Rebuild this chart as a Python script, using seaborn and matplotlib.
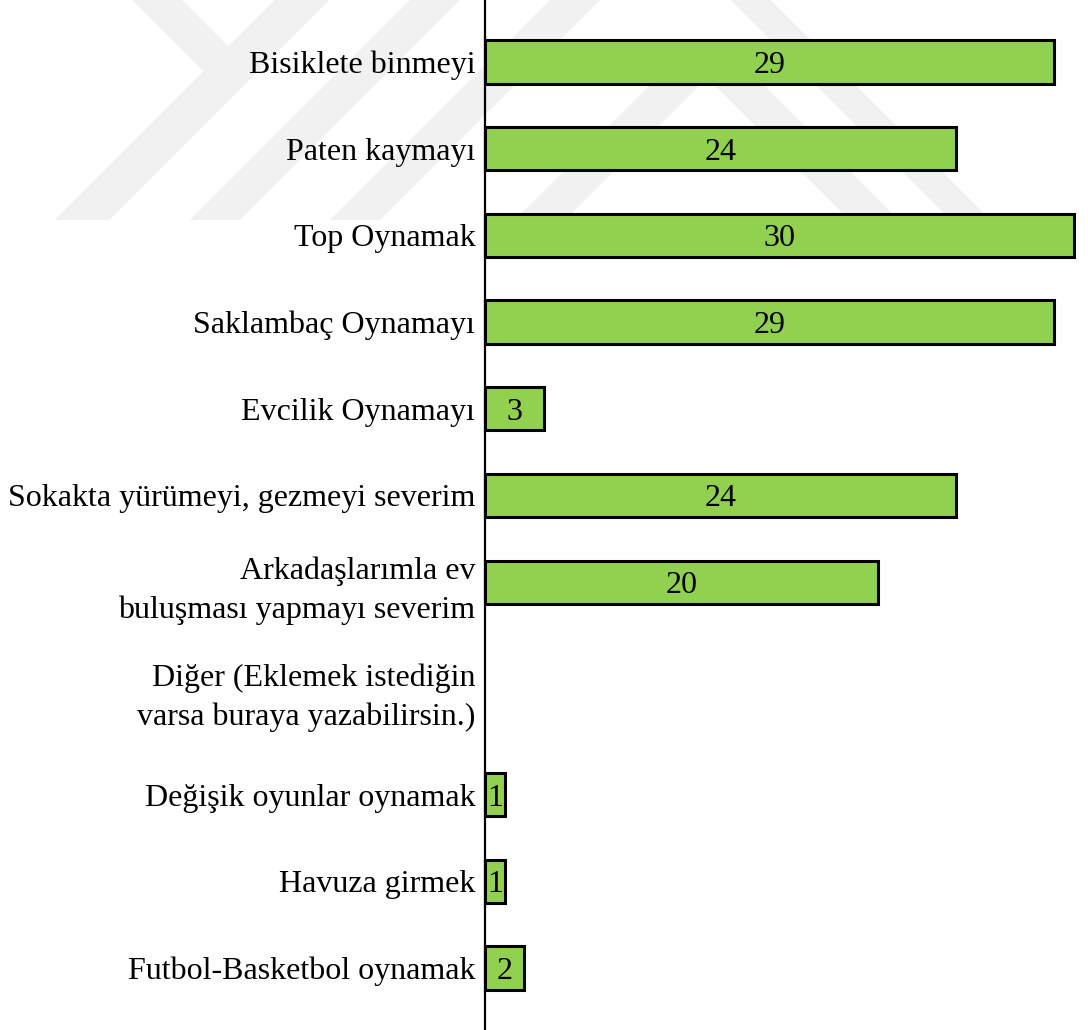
import numpy as np
import pandas as pd
import matplotlib
matplotlib.use("Agg")
import matplotlib.pyplot as plt
from matplotlib.patches import Polygon
import seaborn as sns

# Activities and how many children chose each one
categories = [
    "Bisiklete binmeyi",
    "Paten kaymayı",
    "Top Oynamak",
    "Saklambaç Oynamayı",
    "Evcilik Oynamayı",
    "Sokakta yürümeyi, gezmeyi severim",
    "Arkadaşlarımla ev\nbuluşması yapmayı severim",
    "Diğer (Eklemek istediğin\nvarsa buraya yazabilirsin.)",
    "Değişik oyunlar oynamak",
    "Havuza girmek",
    "Futbol-Basketbol oynamak",
]
counts = [29, 24, 30, 29, 3, 24, 20, np.nan, 1, 1, 2]

W, H = 1088, 1030
sns.set_style("white")
plt.rcParams["font.family"] = ["Liberation Serif", "DejaVu Serif"]
plt.rcParams["text.color"] = "black"
plt.rcParams["ytick.color"] = "black"

fig = plt.figure(figsize=(W / 100, H / 100), dpi=100)
fig.patch.set_facecolor("white")

# faint background emblem (light grey chevron bands) on its own layer
bg = fig.add_axes([0, 0, 1, 1], zorder=0)
bg.set_xlim(0, W)
bg.set_ylim(H, 0)
bg.axis("off")


def band(x0, y0, x1, y1, w):
    pts = [(x0 - w / 2, y0), (x0 + w / 2, y0), (x1 + w / 2, y1), (x1 - w / 2, y1)]
    return Polygon(pts, closed=True, facecolor="#f1f1f1", edgecolor="none")


for seg in [
    (302, 0, 82, 220, 55),
    (157, 0, 229, 72, 50),
    (435, 0, 215, 220, 50),
    (575, 0, 355, 220, 50),
    (707, 53, 540, 220, 50),
    (707, 53, 874, 220, 50),
    (751, 0, 971, 220, 40),
]:
    bg.add_patch(band(*seg))

# rows: the "Diğer" header sits in a wider gap before its sub-items
pos = np.arange(len(categories), dtype=float)
pos[7] += 0.24
pos[8:] += 0.45

df = pd.DataFrame({"kategori": categories, "sayi": counts, "sira": pos})
bars = df.dropna()

ax = fig.add_axes([485 / W, 0, (1074 - 485) / W, 1], zorder=1)
ax.set_facecolor("none")

sns.barplot(data=bars, x="sayi", y="sira", orient="y", native_scale=True,
            color="#92D050", saturation=1, edgecolor="black", linewidth=2.2,
            width=0.5, errorbar=None, ax=ax, zorder=2)

for p in ax.patches:
    p.set_clip_on(False)

texts = ax.bar_label(ax.containers[0], fmt="%d", label_type="center",
                     fontsize=23, color="black")
for t in texts:
    t.set_va("center_baseline")

ax.set_xlim(0, 30)
ax.set_ylim(11.165, -0.715)
ax.set_xticks([])
ax.set_yticks(pos, labels=categories)
ax.tick_params(axis="y", length=0, pad=7, labelsize=23, labelcolor="black")
for lbl in ax.get_yticklabels():
    lbl.set_linespacing(1.42)
ax.set_xlabel("")
ax.set_ylabel("")

for side in ["top", "right", "bottom"]:
    ax.spines[side].set_visible(False)
ax.spines["left"].set_color("black")
ax.spines["left"].set_linewidth(1.6)

fig.savefig("out.png", dpi=100, facecolor="white")
